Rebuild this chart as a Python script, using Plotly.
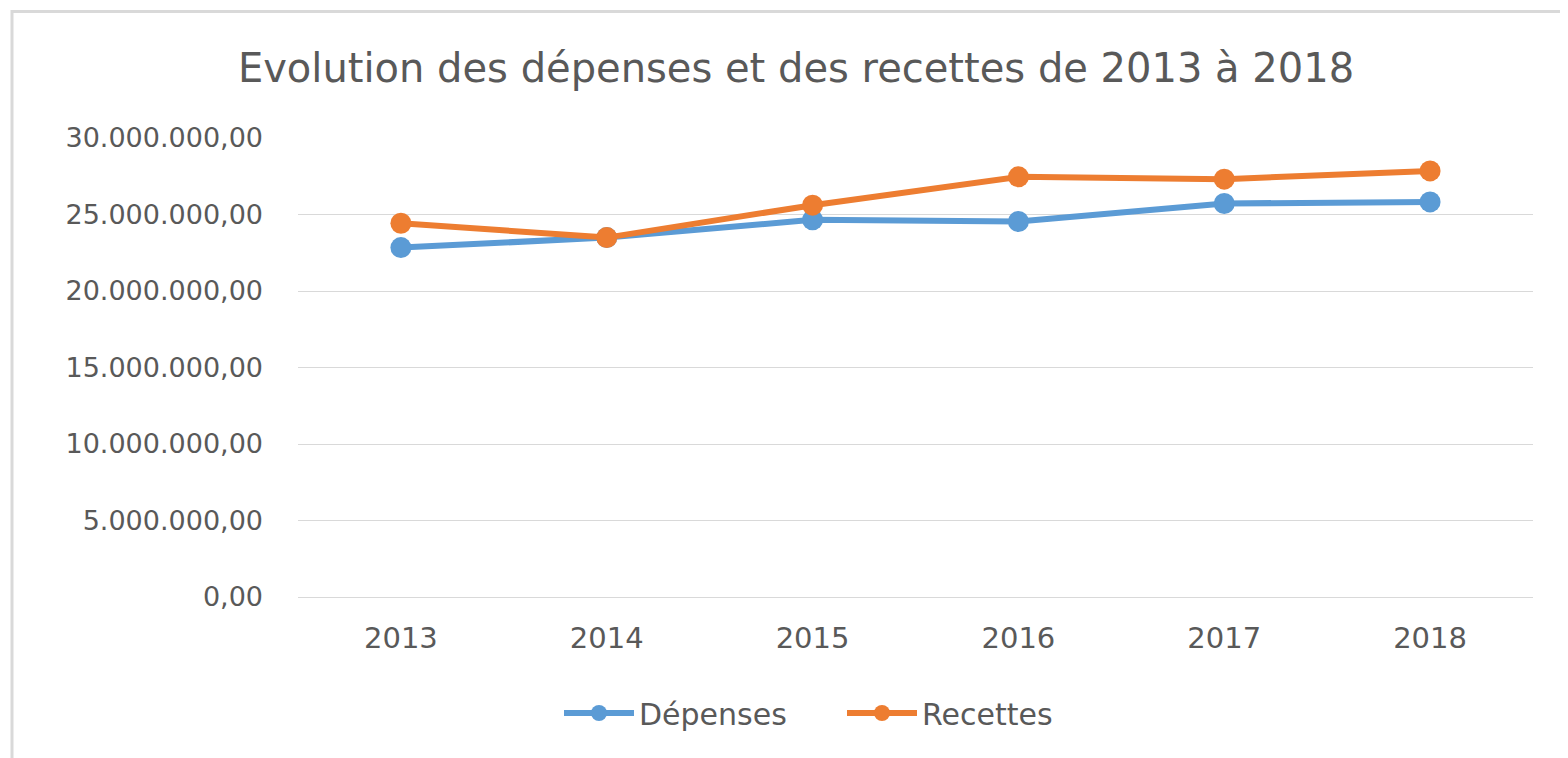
import plotly.graph_objects as go

years = ["2013", "2014", "2015", "2016", "2017", "2018"]
depenses = [22840000, 23490000, 24650000, 24540000, 25720000, 25820000]
recettes = [24430000, 23490000, 25610000, 27460000, 27310000, 27850000]

title_text = "Evolution des dépenses et des recettes de 2013 à 2018"
FONT = "DejaVu Sans"
GRAY = "#595959"

OFF = 8  # default page body margin
W, H = 1568 - OFF, 758 - OFF
L, R, T, B = 298 - OFF, 35, 138 - OFF, 161
pw = W - L - R
ph = H - T - B

def px_x(x):
    return (x - OFF - L) / pw

def px_y(y):
    return (H - B - (y - OFF)) / ph

fig = go.Figure()
fig.add_trace(go.Scatter(
    x=years, y=depenses, name="Dépenses", mode="lines+markers",
    line=dict(color="#5B9BD5", width=6),
    marker=dict(color="#5B9BD5", size=21),
))
fig.add_trace(go.Scatter(
    x=years, y=recettes, name="Recettes", mode="lines+markers",
    line=dict(color="#ED7D31", width=6),
    marker=dict(color="#ED7D31", size=21),
))

fig.update_layout(
    width=W, height=H,
    margin=dict(l=L, r=R, t=T, b=B),
    paper_bgcolor="white", plot_bgcolor="white",
    separators=",.",
    title=dict(text=title_text, x=(796 - OFF) / W, xanchor="center",
               y=1 - (68 - OFF) / H, yanchor="middle",
               font=dict(family=FONT, size=40, color=GRAY)),
    xaxis=dict(
        type="category", range=[-0.5, 5.5], showgrid=False, showline=False,
        zeroline=False, ticks="", ticklabelstandoff=21,
        tickfont=dict(family=FONT, size=29, color=GRAY),
    ),
    yaxis=dict(
        range=[0, 30000000], dtick=5000000, tickformat=",.2f",
        showgrid=True, gridcolor="#D9D9D9", gridwidth=1,
        zeroline=True, zerolinecolor="#D9D9D9", zerolinewidth=1,
        showline=False, ticks="", ticklabelstandoff=34,
        tickfont=dict(family=FONT, size=27, color=GRAY),
    ),
    legend=dict(orientation="h", x=px_x(842), xanchor="center",
                y=px_y(713), yanchor="middle",
                font=dict(family=FONT, size=30, color=GRAY),
                itemwidth=70, entrywidth=198),
    showlegend=True,
    shapes=[dict(type="rect", xref="paper", yref="paper",
                 x0=px_x(12), x1=px_x(1600), y0=px_y(11.5), y1=px_y(800),
                 line=dict(color="#D9D9D9", width=3), layer="below")],
)

fig.write_html("out.html")
